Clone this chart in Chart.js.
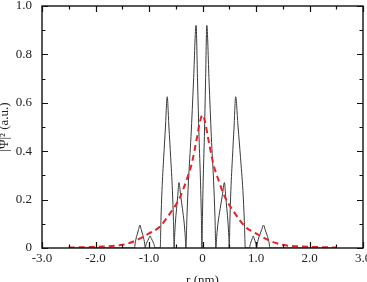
<!DOCTYPE html>
<html>
<head>
<meta charset="utf-8">
<script src="https://cdn.jsdelivr.net/npm/chart.js@4.4.1/dist/chart.umd.min.js"></script>
<style>
  html, body { margin: 0; padding: 0; background: #fff; }
  #c { display: block; }
</style>
</head>
<body>
<canvas id="c" width="367" height="282"></canvas>
<script>
// ---- data ----
// black curve |Ψ|² (solid)
const rSolid = [
  -2.5, -1.27,
  -1.26, -1.245, -1.22, -1.195, -1.17, -1.145, -1.12, -1.095, -1.08, -1.07,
  -1.061, -1.0475, -1.025, -1.0025, -0.98, -0.9575, -0.935, -0.9125, -0.899, -0.89,
  -0.79,
  -0.777, -0.7575, -0.725, -0.6925, -0.66, -0.6275, -0.595, -0.5625, -0.543, -0.53,
  -0.521, -0.5075, -0.485, -0.4625, -0.44, -0.4075, -0.375, -0.3425, -0.323, -0.31,
  -0.291, -0.2625, -0.215, -0.1675, -0.12, -0.0925, -0.065, -0.0375, -0.021, -0.01,
  -0.001, 0.0125, 0.035, 0.0575, 0.08, 0.1225, 0.165, 0.2075, 0.233, 0.25,
  0.266, 0.29, 0.33, 0.37, 0.41, 0.4325, 0.455, 0.4775, 0.491, 0.50,
  0.512, 0.53, 0.56, 0.59, 0.62, 0.665, 0.71, 0.755, 0.782, 0.80,
  0.88,
  0.887, 0.8975, 0.915, 0.9325, 0.95, 0.965, 0.98, 0.995, 1.004, 1.01,
  1.023, 1.0425, 1.075, 1.1075, 1.14, 1.17, 1.20, 1.23, 1.248, 1.26,
  2.5
];
const psiSolid = [
  0, 0,
  0.017, 0.036, 0.057, 0.076, 0.095, 0.076, 0.057, 0.036, 0.017, 0,
  0.009, 0.019, 0.03, 0.04, 0.05, 0.04, 0.03, 0.019, 0.009, 0,
  0,
  0.1125, 0.2375, 0.375, 0.5, 0.625, 0.5, 0.375, 0.2375, 0.1125, 0,
  0.049, 0.103, 0.162, 0.216, 0.27, 0.216, 0.162, 0.103, 0.049, 0,
  0.129, 0.276, 0.46, 0.69, 0.92, 0.69, 0.46, 0.276, 0.129, 0,
  0.129, 0.276, 0.46, 0.69, 0.92, 0.69, 0.46, 0.276, 0.129, 0,
  0.049, 0.103, 0.162, 0.216, 0.27, 0.216, 0.162, 0.103, 0.049, 0,
  0.1125, 0.2375, 0.375, 0.5, 0.625, 0.5, 0.375, 0.2375, 0.1125, 0,
  0,
  0.009, 0.019, 0.03, 0.04, 0.05, 0.04, 0.03, 0.019, 0.009, 0,
  0.017, 0.036, 0.057, 0.076, 0.095, 0.076, 0.057, 0.036, 0.017, 0,
  0
];
// red dashed envelope
const rDashed = [-2.5, -2.0, -1.5, -1.3, -1.0, -0.8, -0.6, -0.42, -0.3, -0.2, -0.1, -0.05, 0,
                 0.05, 0.1, 0.2, 0.3, 0.42, 0.6, 0.8, 1.0, 1.3, 1.5, 2.0, 2.5];
const psiDashed = [0.002, 0.005, 0.013, 0.026, 0.06, 0.088, 0.145, 0.21, 0.28, 0.35, 0.46, 0.52, 0.55,
                   0.52, 0.46, 0.35, 0.28, 0.21, 0.145, 0.088, 0.06, 0.026, 0.013, 0.005, 0.002];
// axes
const xMajorTicks = [-3, -2, -1, 0, 1, 2, 3];
const xMinorTicks = [-2.5, -1.5, -0.5, 0.5, 1.5, 2.5];
const yMajorTicks = [0, 0.2, 0.4, 0.6, 0.8, 1.0];
const yMinorTicks = [0.1, 0.3, 0.5, 0.7, 0.9];
const xTitle = 'r (nm)';
const yTitle = '|Ψ|² (a.u.)';

const toPts = (xs, ys) => xs.map((x, i) => ({ x: x, y: ys[i] }));
const fmt = v => (Math.abs(v) < 1e-9 ? '0' : Number(v).toFixed(1));
const FONT = "'Liberation Serif', 'Times New Roman', serif";

const framePlugin = {
  id: 'frame',
  afterDatasetsDraw(chart) {
    const { ctx, chartArea: a, scales: { x, y } } = chart;
    ctx.save();
    ctx.strokeStyle = '#111';
    ctx.lineWidth = 1.4;
    ctx.strokeRect(a.left, a.top, a.right - a.left, a.bottom - a.top);
    ctx.lineWidth = 1.2;
    const vt = (vals, len) => vals.forEach(v => {
      const px = Math.round(x.getPixelForValue(v)) + 0.5;
      ctx.beginPath();
      ctx.moveTo(px, a.bottom); ctx.lineTo(px, a.bottom - len);
      ctx.moveTo(px, a.top); ctx.lineTo(px, a.top + len);
      ctx.stroke();
    });
    const ht = (vals, len) => vals.forEach(v => {
      const py = Math.round(y.getPixelForValue(v)) + 0.5;
      ctx.beginPath();
      ctx.moveTo(a.left, py); ctx.lineTo(a.left + len, py);
      ctx.moveTo(a.right, py); ctx.lineTo(a.right - len, py);
      ctx.stroke();
    });
    vt(xMajorTicks, 6); vt(xMinorTicks, 3.5);
    ht(yMajorTicks, 6); ht(yMinorTicks, 3.5);
    ctx.restore();
  }
};

new Chart(document.getElementById('c'), {
  type: 'line',
  data: {
    datasets: [
      {
        data: toPts(rDashed, psiDashed),
        borderColor: '#e3242b',
        borderWidth: 2,
        borderDash: [6, 4],
        pointRadius: 0,
        fill: false,
        cubicInterpolationMode: 'monotone'
      },
      {
        data: toPts(rSolid, psiSolid),
        borderColor: '#3a3a3a',
        borderWidth: 1,
        pointRadius: 0,
        fill: false,
        cubicInterpolationMode: 'monotone'
      }
    ]
  },
  options: {
    responsive: false,
    animation: false,
    devicePixelRatio: 1,
    layout: { padding: { left: 0, right: 4, top: 6, bottom: 0 } },
    plugins: { legend: { display: false }, tooltip: { enabled: false } },
    scales: {
      x: {
        type: 'linear',
        min: -3, max: 3,
        afterBuildTicks: s => { s.ticks = xMajorTicks.map(v => ({ value: v })); },
        ticks: {
          callback: v => fmt(v),
          autoSkip: false, maxRotation: 0,
          padding: 3,
          color: '#222',
          font: { family: FONT, size: 13 }
        },
        grid: { display: false, drawTicks: false },
        border: { display: false },
        title: {
          display: true, text: xTitle, color: '#222',
          font: { family: FONT, size: 13, lineHeight: 1 },
          padding: { top: 0, bottom: -5 }
        },
        afterFit: s => { s.height = 34; s.paddingLeft = 0; s.paddingRight = 0; }
      },
      y: {
        type: 'linear',
        min: 0, max: 1,
        afterBuildTicks: s => { s.ticks = yMajorTicks.map(v => ({ value: v })); },
        ticks: {
          callback: v => fmt(v),
          autoSkip: false,
          padding: 10,
          color: '#222',
          font: { family: FONT, size: 13 }
        },
        grid: { display: false, drawTicks: false },
        border: { display: false },
        title: {
          display: true, text: yTitle, color: '#222',
          font: { family: FONT, size: 13, lineHeight: 1 },
          padding: { top: -1.5, bottom: 0 }
        },
        afterFit: s => { s.width = 42; s.paddingTop = 0; s.paddingBottom = 0; }
      }
    }
  },
  plugins: [framePlugin]
});
</script>
</body>
</html>
